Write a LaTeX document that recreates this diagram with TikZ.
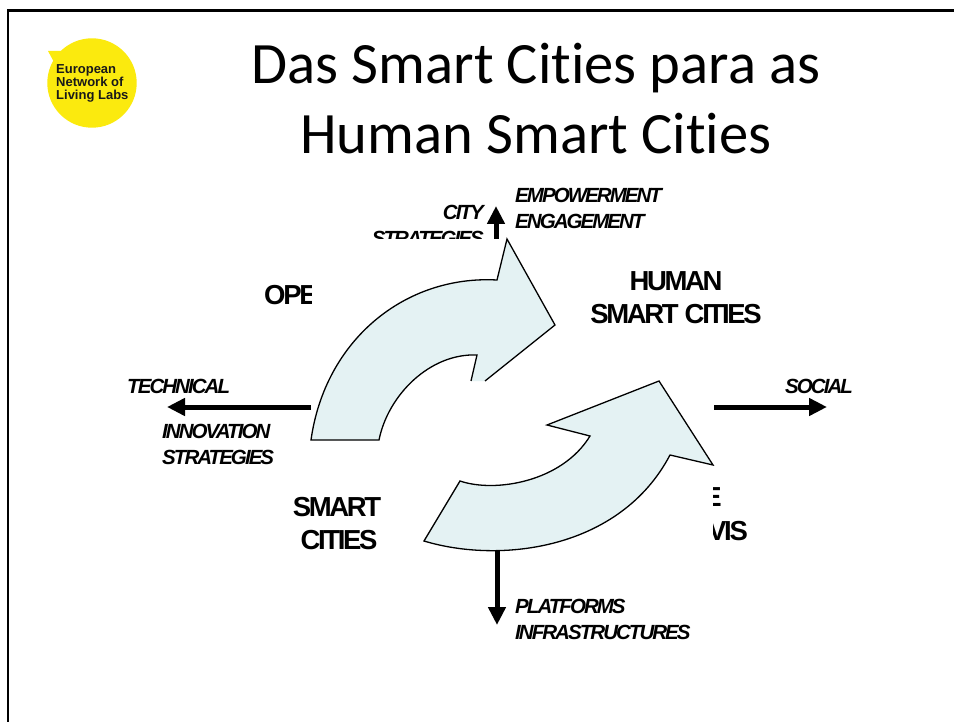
\documentclass[tikz,border=0pt]{standalone}
\usepackage{fontspec}
\setmainfont[Ligatures=NoCommon]{Carlito}
\newfontfamily\lab[LetterSpace=-8.5]{Liberation Sans}
\newfontfamily\labit[LetterSpace=-9.5]{Liberation Sans}
\newfontfamily\logof{Liberation Sans}
\usetikzlibrary{arrows.meta}
\definecolor{swoosh}{HTML}{E4F2F3}
\definecolor{enoll}{HTML}{FBEA0E}
\tikzset{
  x=1pt,y=-1pt,
  swooshpath/.style={draw=black,fill=swoosh,line width=1.3pt,line join=miter},
  axisarrow/.style={line width=5pt,-{Triangle[length=18pt,width=17pt]}},
  biglab/.style={inner sep=0pt,align=center,font=\lab\bfseries\fontsize{27.5}{33}\selectfont},
  itlab/.style={inner sep=0pt,align=left,font=\labit\bfseries\itshape\fontsize{20.5}{26}\selectfont},
  titlelab/.style={inner sep=0pt,align=center,font=\fontsize{58.6}{70}\selectfont},
}
\begin{document}
\begin{tikzpicture}
\useasboundingbox (0,0) rectangle (954,722);
\fill[white] (0,0) rectangle (954,722);
\draw[line width=2.6pt] (8,722) -- (8,10.5) -- (954,10.5);
% logo
\fill[enoll] (92,83) circle (44.7);
\fill[enoll] (48,51) -- (63,51) -- (55,64) -- cycle;
\node[inner sep=0pt,anchor=west,align=left,text=black!90,font=\logof\bfseries\fontsize{13}{12.6}\selectfont] (logo) at (56,83.5) {European\\Network of\\Living Labs};
% title
\node[titlelab] (title) at (536,99) {Das Smart Cities para as\\Human Smart Cities};
% axis arrows
\coordinate (westS) at (311,407); \coordinate (westE) at (167,407);
\coordinate (eastS) at (714,407); \coordinate (eastE) at (827,407);
\coordinate (southS) at (497,550); \coordinate (southE) at (497,625);
\coordinate (northS) at (496,239); \coordinate (northE) at (496,206);
\draw[axisarrow] (westS) -- (westE);
\draw[axisarrow] (eastS) -- (eastE);
\draw[axisarrow] (southS) -- (southE);
\draw[axisarrow] (northS) -- (northE);
% swooshes
\filldraw[swooshpath] (471,381) -- (477,355) .. controls (430,353) and (388,395) .. (379,440) -- (311,440) .. controls (325,340) and (405,275) .. (497,280) -- (507,239) -- (555,325) -- (485,381);
\filldraw[swooshpath] (424,541) .. controls (500,564) and (620,550) .. (670,455) -- (713,465) -- (659,381) -- (547,425) -- (590,436) .. controls (562,482) and (495,493) .. (460,481) -- cycle;
% labels
\node[biglab] (human) at (676,297.5) {HUMAN\\SMART\hspace{6pt}CITIES};
\node[biglab] (smart) at (337,523.5) {SMART\\\hspace{4pt}CITIES};
\begin{scope}
\clip (250,270) rectangle (311,320);
\node[biglab,anchor=west] (ope) at (264,295) {OPE};
\end{scope}
\begin{scope}
\clip (713,470) rectangle (780,560);
\node[biglab,anchor=east] (frag) at (722,497) {E};
\node[biglab,anchor=west] (vis) at (708,531) {VIS};
\end{scope}
\begin{scope}
\clip (340,190) rectangle (490,239);
\node[itlab,align=right,anchor=north east] (city) at (484,205) {CITY\\STRATEGIES};
\end{scope}
\node[itlab,anchor=west] (emp) at (515,208.5) {EMPOWERMENT\\ENGAGEMENT};
\node[itlab,anchor=west] (plat) at (515,619) {PLATFORMS\\INFRASTRUCTURES};
\node[itlab,anchor=west] (tech) at (127,386) {TECHNICAL};
\node[itlab,anchor=west] (innov) at (162,444) {INNOVATION\\STRATEGIES};
\node[itlab,anchor=west] (soc) at (785,386) {SOCIAL};
\end{tikzpicture}
\end{document}
